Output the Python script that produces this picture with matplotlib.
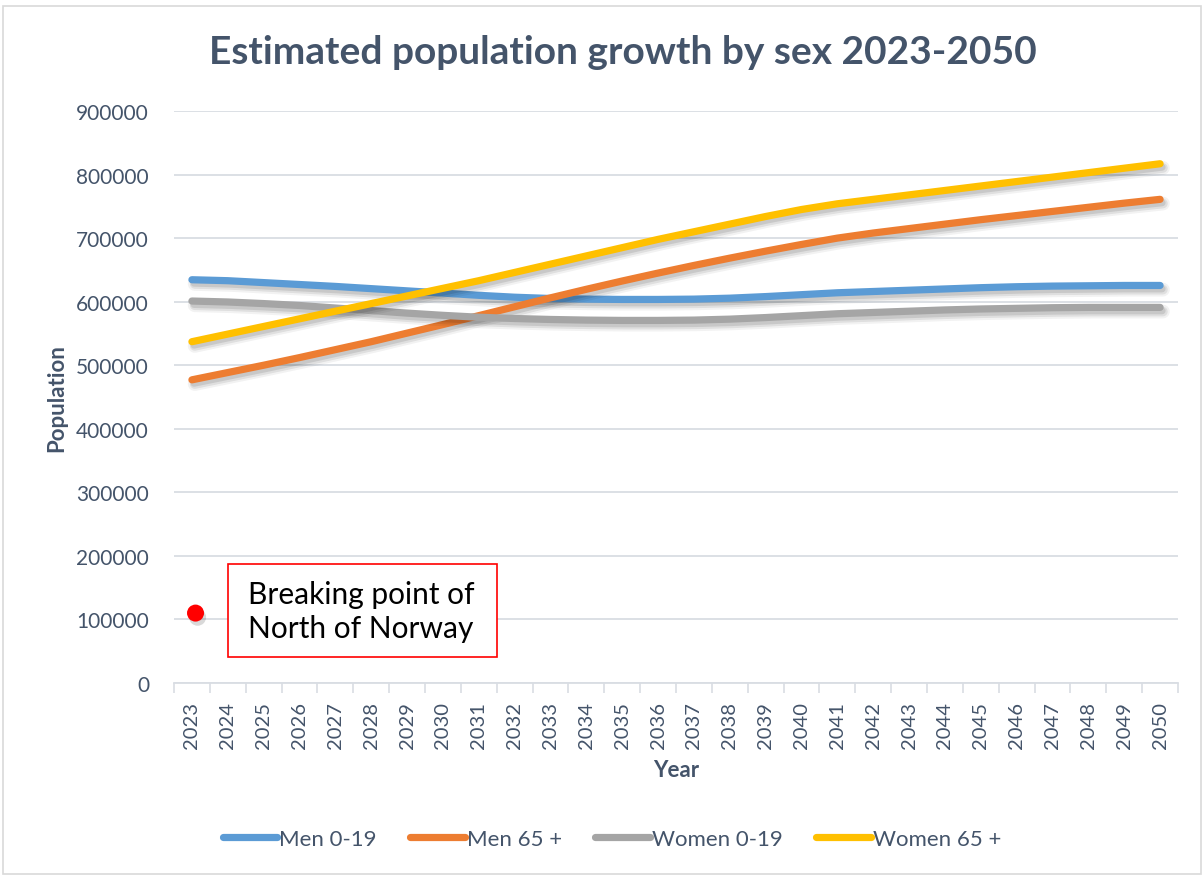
import matplotlib
matplotlib.use("Agg")
import matplotlib.pyplot as plt
import matplotlib.patheffects as pe
from matplotlib.patches import Rectangle
from matplotlib.lines import Line2D
import numpy as np

# ---- data -------------------------------------------------------------
years = list(range(2023, 2051))

men_0_19 = [634500, 633000, 630000, 627000, 624000, 620500, 617000, 613500,
            610000, 607000, 605000, 604000, 603500, 603500, 604000, 605500,
            608000, 611000, 614000, 616000, 618000, 620000, 622000, 623500,
            624500, 625000, 625500, 625500]

men_65_plus = [477000, 488500, 500000, 512000, 524500, 537000, 550500, 564000,
               578000, 592000, 606000, 619500, 632500, 645000, 657000, 668500,
               679500, 690000, 700000, 708000, 715000, 722000, 729000, 735500,
               742000, 748500, 755000, 761000]

women_0_19 = [601000, 599500, 597000, 594000, 590000, 586000, 582000, 578500,
              575500, 573500, 572000, 571000, 570500, 570500, 571000, 572500,
              575000, 578000, 581000, 583000, 585000, 587000, 588500, 589500,
              590500, 591000, 591000, 591000]

women_65_plus = [537000, 549000, 561000, 573000, 585000, 597000, 609000, 621000,
                 633000, 646000, 659000, 672000, 685000, 698000, 710000, 722000,
                 734000, 745000, 754000, 761000, 768000, 775000, 782000, 789000,
                 796000, 803000, 810000, 817000]

series_labels = ["Men 0-19", "Men 65 +", "Women 0-19", "Women 65 +"]
series_colors = ["#5B9BD5", "#ED7D31", "#A5A5A5", "#FFC000"]

breaking_point_year = 2023
breaking_point_value = 110000
breaking_point_text = "Breaking point of\nNorth of Norway"

y_ticks = list(range(0, 900001, 100000))

title = "Estimated population growth by sex 2023-2050"
x_label = "Year"
y_label = "Population"

# ---- figure -----------------------------------------------------------
plt.rcParams["font.family"] = ["Lato", "DejaVu Sans"]
TEXT = "#44546A"
GRID = "#D9DDE3"

W, H = 1204, 878
fig = plt.figure(figsize=(W / 100, H / 100), dpi=100)


def fx(px):
    return px / W


def fy(py):
    return 1 - py / H


ax = fig.add_axes([fx(174), fy(684), fx(1178) - fx(174), fy(112) - fy(684)])

x = np.arange(len(years))
shadow = [
    pe.SimpleLineShadow(offset=(2, -3), shadow_color="black", alpha=0.05, linewidth=10),
    pe.SimpleLineShadow(offset=(2, -3), shadow_color="black", alpha=0.08, linewidth=7),
    pe.SimpleLineShadow(offset=(1.5, -2.5), shadow_color="black", alpha=0.10, linewidth=5),
    pe.Normal(),
]

all_series = [men_0_19, men_65_plus, women_0_19, women_65_plus]
for vals, color, label in zip(all_series, series_colors, series_labels):
    ax.plot(x, vals, color=color, lw=5.2, solid_capstyle="round",
            solid_joinstyle="round", zorder=3, path_effects=shadow)

bp_x = years.index(breaking_point_year) + 0.1
ax.scatter([bp_x], [breaking_point_value], s=150, color="#FF0000", zorder=5,
           linewidths=0,
           path_effects=[pe.SimplePatchShadow(offset=(1.5, -3), alpha=0.15,
                                              shadow_rgbFace="black"),
                         pe.Normal()])

ax.set_xlim(-0.5, len(years) - 0.5)
ax.set_ylim(0, 900000)

ax.set_xticks(x)
ax.set_xticklabels([str(y) for y in years], rotation=90, fontsize=14.5,
                   color=TEXT)
ax.set_xticks(np.arange(-0.5, len(years)), minor=True)
ax.tick_params(axis="x", which="major", length=0, pad=13)
ax.tick_params(axis="x", which="minor", length=7, color=GRID, width=1.2)

ax.set_yticks(y_ticks)
ax.set_yticklabels([str(v) for v in y_ticks], fontsize=15, color=TEXT)
ax.tick_params(axis="y", length=0, pad=18)

ax.grid(axis="y", color=GRID, lw=1.3, zorder=0)
ax.set_axisbelow(True)
for side in ["top", "right", "left"]:
    ax.spines[side].set_visible(False)
ax.spines["bottom"].set_color(GRID)
ax.spines["bottom"].set_linewidth(1.3)

fig.text(fx(57), fy(398), y_label, rotation=90, ha="center", va="center",
         fontsize=16, fontweight="bold", color=TEXT)
fig.text(fx(676), fy(771), x_label, ha="center", va="center",
         fontsize=16, fontweight="bold", color=TEXT)
fig.text(fx(623), fy(52), title, ha="center", va="center",
         fontsize=28, fontweight="bold", color=TEXT)

# annotation box
fig.add_artist(Rectangle((fx(228), fy(658)), fx(497) - fx(228),
                         fy(565) - fy(658), transform=fig.transFigure,
                         facecolor="white", edgecolor="#FF0000", lw=1.2,
                         zorder=6))
fig.text(fx(248), fy(612), breaking_point_text, ha="left", va="center",
         fontsize=21.5, color="black", linespacing=1.22, zorder=7)

# legend
handles = [Line2D([0], [0], color=c, lw=5.2, solid_capstyle="round")
           for c in series_colors]
fig.legend(handles, series_labels, loc="center",
           bbox_to_anchor=(fx(612), fy(840)), ncol=4, frameon=False,
           fontsize=16, handlelength=2.45, handletextpad=0.1,
           columnspacing=1.5, labelcolor=TEXT)

# outer frame
fig.add_artist(Rectangle((fx(3), fy(875)), fx(1201) - fx(3), fy(7) - fy(875),
                         transform=fig.transFigure, fill=False,
                         edgecolor="#D9D9D9", lw=1.2))

fig.savefig("out.png", dpi=100)
